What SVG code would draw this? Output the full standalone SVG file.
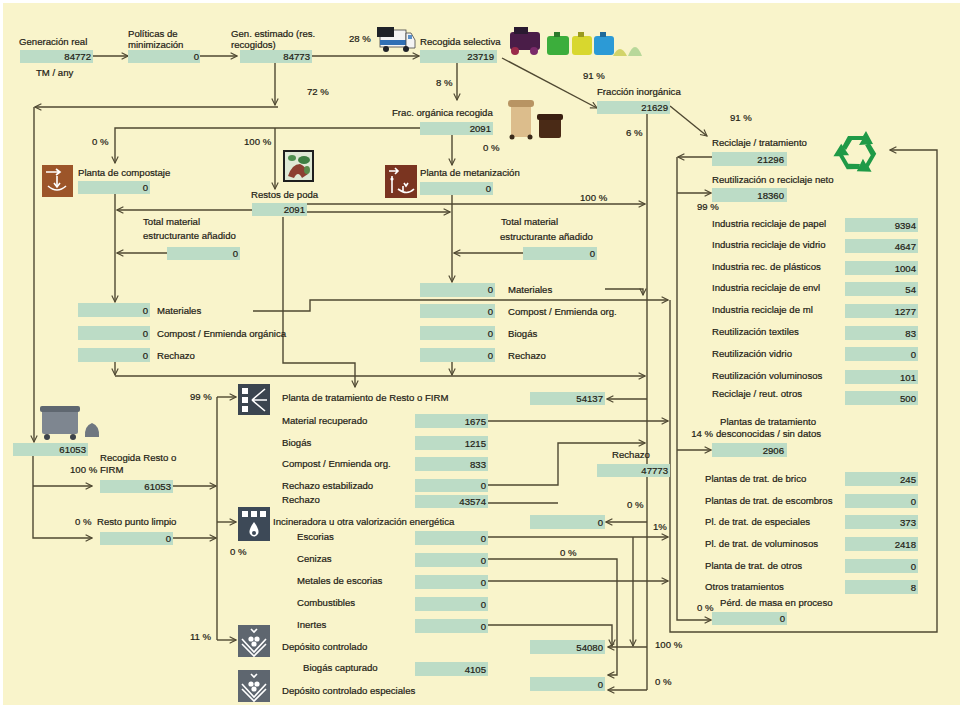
<svg xmlns="http://www.w3.org/2000/svg" width="963" height="709" viewBox="0 0 963 709">
<style>
  .t{font-family:"Liberation Sans",Arial,sans-serif;font-size:9.6px;fill:#222014;stroke:#222014;stroke-width:0.2}
  .v{font-family:"Liberation Sans",Arial,sans-serif;font-size:9.6px;fill:#222014;stroke:#222014;stroke-width:0.2;text-anchor:end}
  .b{fill:#bcdcc6}
  .c{fill:none;stroke:#4f4832;stroke-width:1.4}
  .a{marker-end:url(#arr)}
  .w{fill:#ffffff}
  .ws{fill:none;stroke:#ffffff;stroke-width:1.6}
</style>
<defs>
  <marker id="arr" viewBox="0 0 10 10" refX="9" refY="5" markerWidth="8" markerHeight="8" markerUnits="userSpaceOnUse" orient="auto">
    <path d="M1,1 L9,5 L1,9" fill="none" stroke="#4f4832" stroke-width="1.4"/>
  </marker>
  <path id="recArrow" d="M-9,-17 L6,-17 L9,-22 L16,-9 L2,-8 L5,-13 L-5,-13 L-11,-3 L-15,-6 Z"/>
  <g id="landfill">
    <rect x="0" y="0" width="32" height="32" fill="#5e666f"/>
    <path class="ws" d="M13,4 L16,7 L19,4"/>
    <circle cx="13" cy="14" r="2.6" class="w"/>
    <circle cx="19" cy="14" r="2.6" class="w"/>
    <circle cx="16" cy="19" r="2.6" class="w"/>
    <path class="ws" d="M4,14 L16,27 L28,14"/>
    <path class="ws" d="M4,19 L16,31 L28,19"/>
  </g>
</defs>

<!-- page -->
<rect x="0" y="0" width="963" height="709" fill="#ffffff"/>
<rect x="3" y="3" width="957" height="702" fill="#f9f4cb"/>

<!-- connectors -->
<g id="connectors">
  <path class="c a" d="M93,56 H128"/>
  <path class="c a" d="M200,56 H237"/>
  <path class="c a" d="M312,56 H419"/>
  <path class="c a" d="M275,63 V105"/>
  <path class="c a" d="M278,107 H35"/>
  <path class="c a" d="M34,107 V442"/>
  <path class="c a" d="M457,63 V100"/>
  <path class="c a" d="M502,58 L597,108"/>
  <path class="c a" d="M420,128 H115 V163"/>
  <path class="c a" d="M275,128 V189"/>
  <path class="c a" d="M452,135 V165"/>
  <path class="c a" d="M670,106 L707,136"/>
  <path class="c a" d="M253,210 H117"/>
  <path class="c a" d="M307,204 H645"/>
  <path class="c a" d="M307,212 H450"/>
  <path class="c" d="M647,113 V690"/>
  <path class="c a" d="M647,399 H607"/>
  <path class="c a" d="M647,522 H606"/>
  <path class="c a" d="M647,647 H608"/>
  <path class="c a" d="M647,690 H608"/>
  <path class="c a" d="M712,157 H678"/>
  <path class="c a" d="M677,157 V620 H711"/>
  <path class="c a" d="M677,193 H711"/>
  <path class="c a" d="M677,450 H711"/>
  <path class="c a" d="M670,300 V632 H937 V150 H890"/>
  <path class="c a" d="M253,311 H310 V300 H668"/>
  <path class="c a" d="M488,421 H668"/>
  <path class="c a" d="M488,537 H668"/>
  <path class="c a" d="M488,581 H668"/>
  <path class="c a" d="M167,253 H117"/>
  <path class="c a" d="M115,194 V302"/>
  <path class="c a" d="M115,362 V375"/>
  <path class="c a" d="M115,376 H645"/>
  <path class="c a" d="M523,253 H454"/>
  <path class="c a" d="M452,195 V282"/>
  <path class="c a" d="M452,362 V375"/>
  <path class="c a" d="M605,289 H643 V295"/>
  <path class="c a" d="M283,217 V363 H355 V387"/>
  <path class="c a" d="M33,456 V538 H92"/>
  <path class="c a" d="M33,486 H92"/>
  <path class="c a" d="M173,486 H216"/>
  <path class="c a" d="M173,538 H216"/>
  <path class="c" d="M217,397 V640"/>
  <path class="c a" d="M217,397 H236"/>
  <path class="c a" d="M217,522 H236"/>
  <path class="c a" d="M217,640 H236"/>
  <path class="c a" d="M488,485 H558 V443 H645"/>
  <path class="c" d="M488,503 H558"/>
  <path class="c a" d="M488,559 H617 V675 H608"/>
  <path class="c a" d="M633,537 V646"/>
  <path class="c a" d="M488,625 H612 V646"/>
</g>

<!-- top row -->
<g id="generacion">
  <text class="t" x="19" y="45">Generación real</text>
  <rect class="b" x="20" y="50" width="73" height="13"/>
  <text class="v" x="91" y="60">84772</text>
  <text class="t" x="36" y="76">TM / any</text>
</g>
<g id="politicas">
  <text class="t" x="128" y="37">Políticas de</text>
  <text class="t" x="128" y="48">minimización</text>
  <rect class="b" x="128" y="50" width="72" height="13"/>
  <text class="v" x="199" y="60">0</text>
</g>
<g id="gen-estimado">
  <text class="t" x="231" y="37">Gen. estimado (res.</text>
  <text class="t" x="231" y="48">recogidos)</text>
  <rect class="b" x="240" y="50" width="72" height="13"/>
  <text class="v" x="310" y="60">84773</text>
  <text class="t" x="307" y="95">72 %</text>
</g>
<g id="recogida-selectiva">
  <text class="t" x="349" y="42">28 %</text>
  <g id="truck">
    <rect x="380" y="30" width="26" height="17" fill="#f4f4f4" stroke="#444" stroke-width="0.8"/>
    <rect x="377" y="27" width="17" height="10" fill="#1f2228"/>
    <rect x="380" y="40" width="26" height="5" fill="#2f6fb5"/>
    <path d="M406,33 H411 L415,40 V48 H406 Z" fill="#f4f4f4" stroke="#444" stroke-width="0.8"/>
    <rect x="408" y="35" width="4" height="4" fill="#5a8fc8"/>
    <circle cx="386" cy="49" r="3" fill="#1f2228"/>
    <circle cx="406" cy="49" r="3" fill="#1f2228"/>
  </g>
  <text class="t" x="420" y="45">Recogida selectiva</text>
  <rect class="b" x="420" y="50" width="77" height="13"/>
  <text class="v" x="494" y="60">23719</text>
  <g id="containers">
    <rect x="510" y="32" width="30" height="18" rx="3" fill="#4a1d48"/>
    <rect x="514" y="27" width="14" height="7" fill="#2a1a30"/>
    <circle cx="515" cy="51" r="4" fill="#9a2a4a"/>
    <circle cx="534" cy="51" r="4" fill="#7a2a6a"/>
    <rect x="547" y="36" width="22" height="19" rx="3" fill="#3cae3c"/>
    <rect x="554" y="32" width="6" height="5" fill="#2c7a2c"/>
    <rect x="572" y="36" width="20" height="19" rx="3" fill="#d8d72e"/>
    <rect x="578" y="32" width="6" height="5" fill="#9a9a20"/>
    <rect x="594" y="36" width="20" height="19" rx="3" fill="#2c9ad6"/>
    <rect x="600" y="32" width="6" height="5" fill="#1f6a9a"/>
    <path d="M613,56 Q620,42 627,56 Z" fill="#d2d46a"/>
    <path d="M628,56 Q635,38 642,56 Z" fill="#b8d89a"/>
  </g>
  <text class="t" x="436" y="86">8 %</text>
  <text class="t" x="583" y="79">91 %</text>
</g>
<g id="frac-organica">
  <text class="t" x="392" y="116">Frac. orgánica recogida</text>
  <rect class="b" x="420" y="122" width="73" height="13"/>
  <text class="v" x="491" y="132">2091</text>
  <g id="organic-bins">
    <rect x="511" y="104" width="20" height="33" rx="3" fill="#dcbd8c"/>
    <rect x="508" y="100" width="26" height="7" rx="3" fill="#b89463"/>
    <circle cx="512" cy="137" r="2.5" fill="#3a2a1a"/>
    <circle cx="530" cy="137" r="2.5" fill="#3a2a1a"/>
    <rect x="539" y="118" width="22" height="20" rx="2" fill="#4a2a16"/>
    <rect x="537" y="114" width="26" height="6" rx="2" fill="#3a1f10"/>
  </g>
  <text class="t" x="92" y="145">0 %</text>
  <text class="t" x="244" y="145">100 %</text>
  <text class="t" x="483" y="151">0 %</text>
</g>
<g id="frac-inorganica">
  <text class="t" x="597" y="95">Fracción inorgánica</text>
  <rect class="b" x="597" y="101" width="73" height="13"/>
  <text class="v" x="668" y="111">21629</text>
  <text class="t" x="626" y="136">6 %</text>
  <text class="t" x="730" y="121">91 %</text>
</g>

<!-- composting -->
<g id="compostaje">
  <rect x="42" y="165" width="31" height="32" fill="#9c5529"/>
  <path class="ws" d="M46,172 H60 M56,169 L60,172 L56,175 M57,176 V187 M48,186 Q57,194 66,186"/>
  <path class="ws" d="M54,183 L57,187 L60,183"/>
  <text class="t" x="78" y="176">Planta de compostaje</text>
  <rect class="b" x="78" y="181" width="72" height="13"/>
  <text class="v" x="148" y="191">0</text>
</g>
<g id="restos-poda">
  <rect x="284" y="151" width="29" height="30" fill="#dfe9d6" stroke="#1e1e1e" stroke-width="2"/>
  <ellipse cx="304" cy="160" rx="6" ry="4" fill="#3f7f43"/>
  <ellipse cx="292" cy="158" rx="4" ry="3" fill="#4f9050"/>
  <path d="M288,176 Q292,164 300,164 Q306,166 308,174 L302,178 Q298,170 294,178 Z" fill="#8c3f32"/>
  <ellipse cx="307" cy="170" rx="3" ry="4" fill="#5a8a4a"/>
  <text class="t" x="251" y="198">Restos de poda</text>
  <rect class="b" x="252" y="203" width="55" height="13"/>
  <text class="v" x="305" y="213">2091</text>
  <text class="t" x="580" y="201">100 %</text>
</g>
<g id="metanizacion">
  <rect x="385" y="165" width="32" height="33" fill="#7a3420"/>
  <path class="ws" d="M389,171 H398 M395,168 L398,171 L395,174 M392,176 V193 M403,186 V191 M398,189 Q407,196 414,189 M404,183 L406,186 L408,183"/>
  <circle cx="392" cy="179" r="1.6" class="w"/>
  <text class="t" x="420" y="176">Planta de metanización</text>
  <rect class="b" x="420" y="182" width="73" height="13"/>
  <text class="v" x="491" y="192">0</text>
</g>
<g id="estructurante-compost">
  <text class="t" x="143" y="225">Total material</text>
  <text class="t" x="143" y="239">estructurante añadido</text>
  <rect class="b" x="167" y="247" width="73" height="13"/>
  <text class="v" x="238" y="257">0</text>
</g>
<g id="estructurante-metan">
  <text class="t" x="501" y="225">Total material</text>
  <text class="t" x="500" y="240">estructurante añadido</text>
  <rect class="b" x="523" y="247" width="74" height="13"/>
  <text class="v" x="595" y="257">0</text>
</g>
<g id="salidas-compost">
  <rect class="b" x="78" y="303" width="72" height="14"/>
  <text class="v" x="148" y="314">0</text>
  <text class="t" x="157" y="314">Materiales</text>
  <rect class="b" x="78" y="326" width="72" height="14"/>
  <text class="v" x="148" y="337">0</text>
  <text class="t" x="157" y="337">Compost / Enmienda orgánica</text>
  <rect class="b" x="78" y="348" width="72" height="14"/>
  <text class="v" x="148" y="359">0</text>
  <text class="t" x="157" y="359">Rechazo</text>
</g>
<g id="salidas-metan">
  <rect class="b" x="420" y="283" width="75" height="14"/>
  <text class="v" x="493" y="293">0</text>
  <text class="t" x="508" y="293">Materiales</text>
  <rect class="b" x="420" y="304" width="75" height="14"/>
  <text class="v" x="493" y="315">0</text>
  <text class="t" x="508" y="315">Compost / Enmienda org.</text>
  <rect class="b" x="420" y="326" width="75" height="14"/>
  <text class="v" x="493" y="337">0</text>
  <text class="t" x="508" y="337">Biogás</text>
  <rect class="b" x="420" y="348" width="75" height="14"/>
  <text class="v" x="493" y="359">0</text>
  <text class="t" x="508" y="359">Rechazo</text>
</g>

<!-- right column -->
<g id="reciclaje">
  <text class="t" x="712" y="146">Reciclaje / tratamiento</text>
  <rect class="b" x="712" y="152" width="75" height="14"/>
  <text class="v" x="784" y="163">21296</text>
  <g id="recycle" transform="translate(857,153)" fill="#1f9a47">
    <use href="#recArrow"/>
    <use href="#recArrow" transform="rotate(120)"/>
    <use href="#recArrow" transform="rotate(240)"/>
  </g>
</g>
<g id="reutilizacion">
  <text class="t" x="712" y="183">Reutilización o reciclaje neto</text>
  <rect class="b" x="712" y="188" width="75" height="14"/>
  <text class="v" x="784" y="199">18360</text>
  <text class="t" x="697" y="210">99 %</text>
</g>
<g id="destinos-reciclaje">
  <text class="t" x="712" y="227">Industria reciclaje de papel</text>
  <rect class="b" x="845" y="218" width="73" height="14"/>
  <text class="v" x="916" y="229">9394</text>
  <text class="t" x="712" y="248">Industria reciclaje de vidrio</text>
  <rect class="b" x="845" y="239" width="73" height="14"/>
  <text class="v" x="916" y="250">4647</text>
  <text class="t" x="712" y="270">Industria rec. de plásticos</text>
  <rect class="b" x="845" y="261" width="73" height="14"/>
  <text class="v" x="916" y="272">1004</text>
  <text class="t" x="712" y="291">Industria reciclaje de envl</text>
  <rect class="b" x="845" y="282" width="73" height="14"/>
  <text class="v" x="916" y="293">54</text>
  <text class="t" x="712" y="313">Industria reciclaje de ml</text>
  <rect class="b" x="845" y="304" width="73" height="14"/>
  <text class="v" x="916" y="315">1277</text>
  <text class="t" x="712" y="335">Reutilización textiles</text>
  <rect class="b" x="845" y="326" width="73" height="14"/>
  <text class="v" x="916" y="337">83</text>
  <text class="t" x="712" y="357">Reutilización vidrio</text>
  <rect class="b" x="845" y="347" width="73" height="14"/>
  <text class="v" x="916" y="358">0</text>
  <text class="t" x="712" y="379">Reutilización voluminosos</text>
  <rect class="b" x="845" y="370" width="73" height="14"/>
  <text class="v" x="916" y="381">101</text>
  <text class="t" x="712" y="397">Reciclaje / reut. otros</text>
  <rect class="b" x="845" y="391" width="73" height="14"/>
  <text class="v" x="916" y="402">500</text>
</g>
<g id="plantas-desconocidas">
  <text class="t" x="720" y="425">Plantas de tratamiento</text>
  <text class="v" x="713" y="437">14 %</text>
  <text class="t" x="716" y="437">desconocidas / sin datos</text>
  <rect class="b" x="712" y="443" width="75" height="14"/>
  <text class="v" x="784" y="454">2906</text>
</g>
<g id="destinos-tratamiento">
  <text class="t" x="705" y="482">Plantas de trat. de brico</text>
  <rect class="b" x="845" y="472" width="73" height="14"/>
  <text class="v" x="916" y="483">245</text>
  <text class="t" x="705" y="504">Plantas de trat. de escombros</text>
  <rect class="b" x="845" y="494" width="73" height="14"/>
  <text class="v" x="916" y="505">0</text>
  <text class="t" x="705" y="525">Pl. de trat. de especiales</text>
  <rect class="b" x="845" y="515" width="73" height="14"/>
  <text class="v" x="916" y="526">373</text>
  <text class="t" x="705" y="547">Pl. de trat. de voluminosos</text>
  <rect class="b" x="845" y="537" width="73" height="14"/>
  <text class="v" x="916" y="548">2418</text>
  <text class="t" x="705" y="569">Planta de trat. de otros</text>
  <rect class="b" x="845" y="559" width="73" height="14"/>
  <text class="v" x="916" y="570">0</text>
  <text class="t" x="705" y="590">Otros tratamientos</text>
  <rect class="b" x="845" y="580" width="73" height="14"/>
  <text class="v" x="916" y="591">8</text>
</g>
<g id="perdidas">
  <text class="t" x="720" y="606">Pérd. de masa en proceso</text>
  <text class="t" x="697" y="611">0 %</text>
  <rect class="b" x="712" y="612" width="75" height="13"/>
  <text class="v" x="785" y="622">0</text>
</g>

<!-- residual stream -->
<g id="resto">
  <g id="bin-icon">
    <rect x="42" y="410" width="36" height="24" rx="2" fill="#7e8690"/>
    <rect x="40" y="406" width="40" height="6" rx="2" fill="#5f6770"/>
    <circle cx="47" cy="437" r="3" fill="#3d434a"/>
    <circle cx="73" cy="437" r="3" fill="#3d434a"/>
    <path d="M85,437 Q84,426 92,423 Q100,426 99,437 Z" fill="#6f7780"/>
  </g>
  <rect class="b" x="13" y="443" width="75" height="13"/>
  <text class="v" x="86" y="453">61053</text>
</g>
<g id="recogida-resto">
  <text class="t" x="100" y="461">Recogida Resto o</text>
  <text class="t" x="70" y="473">100 %</text>
  <text class="t" x="100" y="473">FIRM</text>
  <rect class="b" x="100" y="480" width="73" height="13"/>
  <text class="v" x="171" y="490">61053</text>
</g>
<g id="punto-limpio">
  <text class="t" x="75" y="525">0 %</text>
  <text class="t" x="97" y="525">Resto punto limpio</text>
  <rect class="b" x="100" y="532" width="73" height="13"/>
  <text class="v" x="171" y="542">0</text>
</g>
<g id="planta-resto">
  <text class="t" x="190" y="400">99 %</text>
  <rect x="238" y="384" width="32" height="31" fill="#3b4550"/>
  <rect class="w" x="242" y="388" width="6" height="6"/>
  <rect class="w" x="242" y="397" width="6" height="6"/>
  <rect class="w" x="242" y="406" width="6" height="6"/>
  <path class="ws" d="M252,400 L265,389 M252,400 H267 M252,400 L265,411"/>
  <text class="t" x="282" y="401">Planta de tratamiento de Resto o FIRM</text>
  <text class="t" x="282" y="424">Material recuperado</text>
  <rect class="b" x="415" y="414" width="73" height="14"/>
  <text class="v" x="486" y="425">1675</text>
  <text class="t" x="282" y="446">Biogás</text>
  <rect class="b" x="415" y="436" width="73" height="14"/>
  <text class="v" x="486" y="447">1215</text>
  <text class="t" x="282" y="467">Compost / Enmienda org.</text>
  <rect class="b" x="415" y="457" width="73" height="14"/>
  <text class="v" x="486" y="468">833</text>
  <text class="t" x="282" y="489">Rechazo estabilizado</text>
  <rect class="b" x="415" y="479" width="73" height="13"/>
  <text class="v" x="486" y="489">0</text>
  <text class="t" x="282" y="503">Rechazo</text>
  <rect class="b" x="415" y="495" width="73" height="13"/>
  <text class="v" x="486" y="505">43574</text>
</g>
<g id="total-54137">
  <rect class="b" x="530" y="392" width="75" height="13"/>
  <text class="v" x="603" y="402">54137</text>
</g>
<g id="rechazo-total">
  <text class="t" x="612" y="458">Rechazo</text>
  <rect class="b" x="597" y="464" width="73" height="13"/>
  <text class="v" x="668" y="474">47773</text>
  <text class="t" x="627" y="508">0 %</text>
  <text class="t" x="653" y="530">1%</text>
  <text class="t" x="655" y="648">100 %</text>
  <text class="t" x="655" y="685">0 %</text>
</g>
<g id="incineradora">
  <rect x="238" y="507" width="32" height="34" fill="#3d4957"/>
  <rect class="w" x="242" y="511" width="6" height="6"/>
  <rect class="w" x="251" y="511" width="6" height="6"/>
  <rect class="w" x="260" y="511" width="6" height="6"/>
  <path class="w" d="M254,522 Q260,530 258,534 Q254,539 250,534 Q248,530 254,522 Z"/>
  <circle cx="254" cy="533" r="2" fill="#3d4957"/>
  <text class="t" x="230" y="555">0 %</text>
  <text class="t" x="273" y="525">Incineradora u otra valorización energética</text>
  <text class="t" x="297" y="540">Escorias</text>
  <rect class="b" x="415" y="531" width="73" height="14"/>
  <text class="v" x="486" y="542">0</text>
  <text class="t" x="297" y="562">Cenizas</text>
  <rect class="b" x="415" y="553" width="73" height="14"/>
  <text class="v" x="486" y="564">0</text>
  <text class="t" x="297" y="584">Metales de escorias</text>
  <rect class="b" x="415" y="575" width="73" height="14"/>
  <text class="v" x="486" y="586">0</text>
  <text class="t" x="297" y="606">Combustibles</text>
  <rect class="b" x="415" y="597" width="73" height="14"/>
  <text class="v" x="486" y="608">0</text>
  <text class="t" x="297" y="628">Inertes</text>
  <rect class="b" x="415" y="619" width="73" height="14"/>
  <text class="v" x="486" y="630">0</text>
  <text class="t" x="560" y="556">0 %</text>
  <rect class="b" x="530" y="515" width="75" height="14"/>
  <text class="v" x="603" y="526">0</text>
</g>
<g id="deposito">
  <text class="t" x="190" y="640">11 %</text>
  <use href="#landfill" x="238" y="625"/>
  <text class="t" x="282" y="650">Depósito controlado</text>
  <text class="t" x="303" y="671">Biogás capturado</text>
  <rect class="b" x="415" y="662" width="73" height="14"/>
  <text class="v" x="486" y="673">4105</text>
  <rect class="b" x="530" y="640" width="75" height="14"/>
  <text class="v" x="603" y="651">54080</text>
</g>
<g id="deposito-especiales">
  <use href="#landfill" x="238" y="670"/>
  <text class="t" x="282" y="694">Depósito controlado especiales</text>
  <rect class="b" x="530" y="677" width="75" height="14"/>
  <text class="v" x="603" y="688">0</text>
</g>
</svg>
